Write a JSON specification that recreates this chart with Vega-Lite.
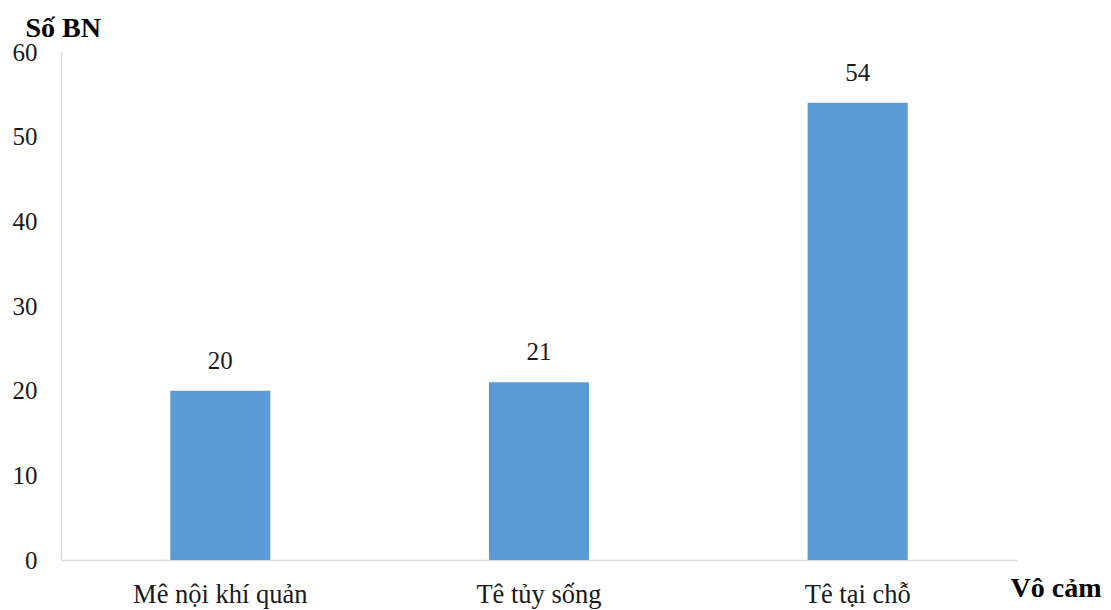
{
  "$schema": "https://vega.github.io/schema/vega-lite/v6.json",
  "width": 956,
  "height": 508,
  "autosize": {"type": "none"},
  "padding": {"left": 61, "top": 52, "right": 94, "bottom": 50},
  "background": "white",
  "config": {
    "view": {"stroke": null},
    "font": "Liberation Serif"
  },
  "data": {
    "values": [
      {"method": "Mê nội khí quản", "count": 20},
      {"method": "Tê tủy sống", "count": 21},
      {"method": "Tê tại chỗ", "count": 54}
    ]
  },
  "encoding": {
    "x": {
      "field": "method",
      "type": "nominal",
      "sort": null,
      "scale": {"paddingInner": 0.686, "paddingOuter": 0.343},
      "axis": {
        "title": "Vô cảm",
        "titleFont": "Liberation Serif",
        "titleFontSize": 28,
        "titleFontWeight": "bold",
        "titleColor": "black",
        "titleAngle": 0,
        "titleAlign": "left",
        "titleBaseline": "middle",
        "titleX": 949,
        "titleY": 28,
        "labelAngle": 0,
        "labelFont": "Liberation Serif",
        "labelFontSize": 26.5,
        "labelColor": "#1a1a1a",
        "labelPadding": 21,
        "ticks": false,
        "domainColor": "#d9d9d9",
        "domainWidth": 1.5
      }
    },
    "y": {
      "field": "count",
      "type": "quantitative",
      "scale": {"domain": [0, 60], "nice": false},
      "axis": {
        "title": "Số BN",
        "titleFont": "Liberation Serif",
        "titleFontSize": 28,
        "titleFontWeight": "bold",
        "titleColor": "black",
        "titleAngle": 0,
        "titleAlign": "left",
        "titleBaseline": "middle",
        "titleX": -36,
        "titleY": -24,
        "values": [0, 10, 20, 30, 40, 50, 60],
        "grid": false,
        "ticks": false,
        "labelFont": "Liberation Serif",
        "labelFontSize": 25,
        "labelColor": "#1a1a1a",
        "labelPadding": 24,
        "domainColor": "#d9d9d9",
        "domainWidth": 1.5
      }
    }
  },
  "layer": [
    {"mark": {"type": "bar", "color": "#5B9BD5"}},
    {
      "mark": {
        "type": "text",
        "baseline": "middle",
        "dy": -30,
        "font": "Liberation Serif",
        "fontSize": 25,
        "color": "#1a1a1a"
      },
      "encoding": {"text": {"field": "count", "type": "quantitative"}}
    }
  ]
}
